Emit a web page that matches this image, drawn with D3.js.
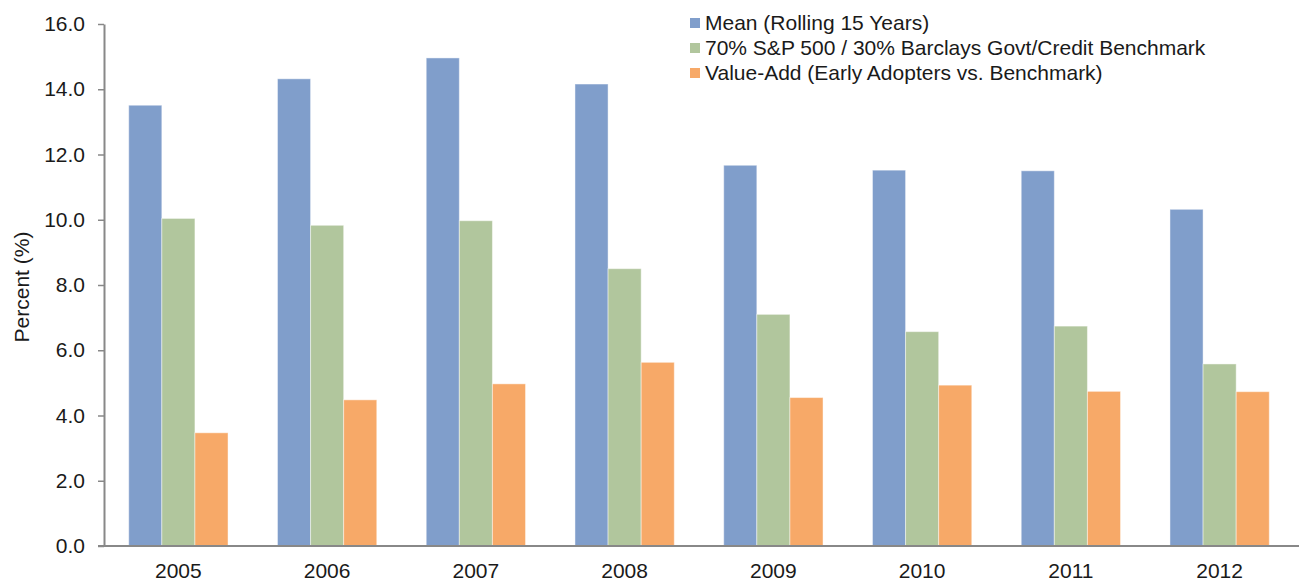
<!DOCTYPE html>
<html>
<head>
<meta charset="utf-8">
<script src="https://cdn.jsdelivr.net/npm/d3@7"></script>
<style>
  html, body { margin: 0; padding: 0; background: #fff; }
  text { font-family: "Liberation Sans", Arial, sans-serif; fill: #1a1a1a; }
</style>
</head>
<body>
<svg id="chart" width="1299" height="582"></svg>
<script>
// Rolling 15-year returns, by year
const years = ["2005", "2006", "2007", "2008", "2009", "2010", "2011", "2012"];
const meanRolling = [13.51, 14.32, 14.96, 14.16, 11.67, 11.52, 11.50, 10.32];
const benchmark   = [10.04, 9.83, 9.97, 8.50, 7.10, 6.57, 6.74, 5.58];
const valueAdd    = [3.47, 4.48, 4.97, 5.63, 4.55, 4.93, 4.74, 4.73];
const seriesNames = [
  "Mean (Rolling 15 Years)",
  "70% S&P 500 / 30% Barclays Govt/Credit Benchmark",
  "Value-Add (Early Adopters vs. Benchmark)"
];
const yTicks = [0, 2, 4, 6, 8, 10, 12, 14, 16];
const colors = ["#809ECB", "#B1C69D", "#F7A968"];

const seriesValues = [meanRolling, benchmark, valueAdd];
const fontSize = 21;

const svg = d3.select("#chart");
const plotLeft = 104, plotRight = 1294, plotTop = 24, plotBottom = 546;

const x = d3.scaleBand().domain(years).range([plotLeft, plotRight]).paddingInner(0).paddingOuter(0);
const groupWidth = 99.3;
const x1 = d3.scaleBand().domain(d3.range(seriesNames.length))
  .range([(x.bandwidth() - groupWidth) / 2, (x.bandwidth() + groupWidth) / 2]);
const y = d3.scaleLinear().domain([0, 16]).range([plotBottom, plotTop]);

// Bars
seriesValues.forEach((vals, si) => {
  svg.append("g")
    .selectAll("rect")
    .data(years.map((yr, i) => ({ yr, v: vals[i] })))
    .join("rect")
    .attr("x", d => x(d.yr) + x1(si))
    .attr("y", d => y(d.v))
    .attr("width", x1.bandwidth())
    .attr("height", d => y(0) - y(d.v))
    .attr("fill", colors[si])
    .attr("stroke", "#ffffff")
    .attr("stroke-opacity", 0.45)
    .attr("stroke-width", 1);
});

// Y axis
const yAxis = d3.axisLeft(y).tickValues(yTicks).tickFormat(d3.format(".1f")).tickSize(6).tickSizeOuter(0);
const gy = svg.append("g").attr("transform", `translate(${plotLeft},0)`).call(yAxis);
gy.select(".domain").attr("stroke", "#888").attr("stroke-width", 2);
gy.selectAll(".tick line").attr("stroke", "#888").attr("stroke-width", 1.5);
gy.selectAll(".tick text").attr("x", -19).attr("font-size", fontSize).style("fill", "#1a1a1a")
  .attr("font-family", "Liberation Sans, Arial, sans-serif");

// X axis
const xAxis = d3.axisBottom(x).tickSize(0).tickPadding(17).tickSizeOuter(0);
const gx = svg.append("g").attr("transform", `translate(0,${plotBottom})`).call(xAxis);
gx.select(".domain").attr("stroke", "#888").attr("stroke-width", 2)
  .attr("d", `M${plotLeft - 6},0H1299`);
gx.selectAll(".tick text").attr("font-size", fontSize).style("fill", "#1a1a1a")
  .attr("font-family", "Liberation Sans, Arial, sans-serif");

// Y axis title
svg.append("text")
  .attr("transform", `translate(29,${(plotTop + plotBottom) / 2 + 2}) rotate(-90)`)
  .attr("text-anchor", "middle")
  .attr("font-size", fontSize)
  .text("Percent (%)");

// Legend
const legend = svg.append("g").attr("transform", "translate(690,0)");
seriesNames.forEach((name, i) => {
  const cy = 23 + i * 25;
  legend.append("rect")
    .attr("x", 0).attr("y", cy - 5)
    .attr("width", 10).attr("height", 10)
    .attr("fill", colors[i]);
  legend.append("text")
    .attr("x", 15).attr("y", cy)
    .attr("dy", "0.35em")
    .attr("font-size", fontSize)
    .text(name);
});
</script>
</body>
</html>
